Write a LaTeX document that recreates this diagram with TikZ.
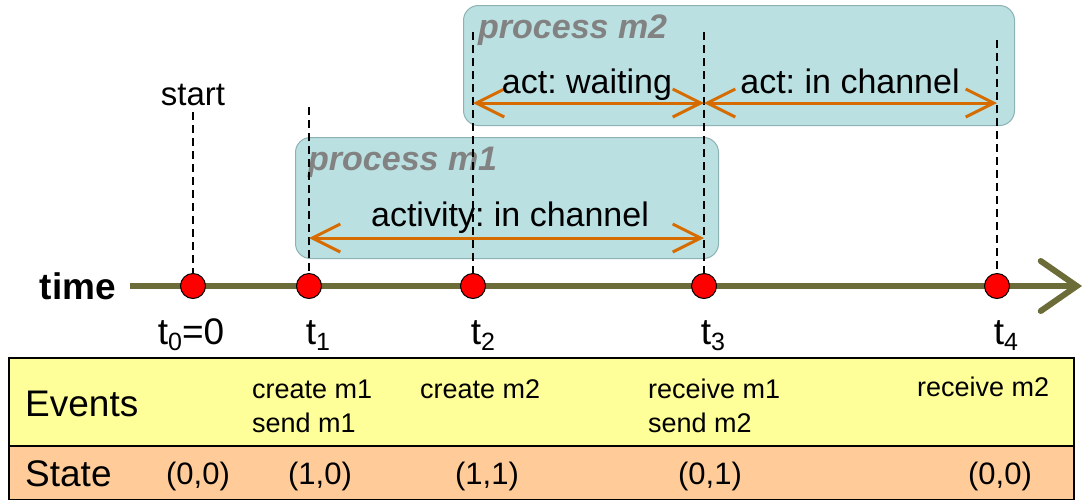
\documentclass[tikz,border=0pt]{standalone}
\usepackage{fontspec}
\setmainfont{Liberation Sans}
\usetikzlibrary{arrows.meta}
\definecolor{axisc}{RGB}{108,108,56}
\definecolor{actc}{RGB}{214,108,0}
\definecolor{boxfill}{RGB}{186,224,226}
\definecolor{boxdraw}{RGB}{140,178,180}
\definecolor{procc}{RGB}{130,130,130}
\definecolor{evfill}{RGB}{255,255,153}
\definecolor{stfill}{RGB}{255,204,153}
\newcommand{\fsz}[1]{\fontsize{#1}{#1}\selectfont}
\newcommand{\tsb}[1]{t\raisebox{-6pt}{\fsz{25}#1}}
\frenchspacing
\begin{document}
\begin{tikzpicture}[x=1pt,y=-1pt,
  procbox/.style={draw=boxdraw, line width=1pt, fill=boxfill, rounded corners=15pt, anchor=north west, inner sep=0pt},
  proclabel/.style={anchor=base west, inner sep=0pt, text=procc, font=\fsz{34}\bfseries\itshape},
  axisline/.style={draw=axisc, line width=6pt, -{Straight Barb[length=36pt,width=50pt,line width=6pt,line cap=round]}},
  actarrow/.style={draw=actc, line width=3pt, {Straight Barb[length=28pt,width=28pt,line width=3pt]}-{Straight Barb[length=28pt,width=28pt,line width=3pt]}},
  dashline/.style={draw=black, line width=2pt, dash pattern=on 8pt off 5pt},
  evdot/.style={circle, draw=black, line width=1pt, fill=red, minimum size=25pt, inner sep=0pt},
  lbl/.style={anchor=base, inner sep=0pt, font=\fsz{34}},
  tlbl/.style={anchor=base, inner sep=0pt, font=\fsz{37}},
  evtxt/.style={anchor=base west, inner sep=0pt, font=\fsz{27}},
  sttxt/.style={anchor=base, inner sep=0pt, font=\fsz{31}},
  rowhead/.style={anchor=base west, inner sep=0pt, font=\fsz{37}},
  rowbox/.style={draw=black, line width=1.5pt, anchor=north west, inner sep=0pt}
]
\useasboundingbox (0,0) rectangle (1085,499);

% process boxes
\node[procbox, minimum width=551pt, minimum height=120pt] (m2box) at (463,5) {};
\node[procbox, minimum width=423pt, minimum height=121pt] (m1box) at (295,137) {};
\node[proclabel] (m2lbl) at (478,38) {process m2};
\node[proclabel] (m1lbl) at (308,170) {process m1};

% axis
\coordinate (ax0) at (130,286);
\coordinate (ax1) at (1082,286);
\draw[axisline] (ax0) -- (ax1);
\node[anchor=base east, inner sep=0pt, font=\fsz{37}\bfseries] (timelbl) at (116,299) {time};

% dots
\node[evdot] (d0) at (193,286) {};
\node[evdot] (d1) at (309,286) {};
\node[evdot] (d2) at (473,286) {};
\node[evdot] (d3) at (704,286) {};
\node[evdot] (d4) at (997,286) {};

% dashed lines
\coordinate (s0) at (193,112);
\coordinate (s1) at (309,107);
\coordinate (s2) at (473,32);
\coordinate (s3) at (704,32);
\coordinate (s4) at (997,40);
\draw[dashline] (s0) -- (d0);
\draw[dashline] (s1) -- (d1);
\draw[dashline] (s2) -- (d2);
\draw[dashline] (s3) -- (d3);
\draw[dashline] (s4) -- (d4);
\node[anchor=base, inner sep=0pt, font=\fsz{33}] (startlbl) at (193,105) {start};

% activity arrows
\coordinate (p1a) at (309,238);
\coordinate (p1b) at (704,238);
\draw[actarrow] (p1a) -- (p1b);
\node[lbl] (p1lbl) at (510,226) {activity: in channel};
\coordinate (p2a) at (473,103);
\coordinate (p2b) at (704,103);
\coordinate (p2c) at (997,103);
\draw[actarrow] (p2a) -- (p2b);
\draw[actarrow] (p2b) -- (p2c);
\node[lbl] (wlbl) at (587,93) {act: waiting};
\node[lbl] (clbl) at (850,93) {act: in channel};

% time labels
\node[tlbl] (t0) at (191,344) {\tsb{0}=0};
\node[tlbl] (t1) at (318,344) {\tsb{1}};
\node[tlbl] (t2) at (483,344) {\tsb{2}};
\node[tlbl] (t3) at (713,344) {\tsb{3}};
\node[tlbl] (t4) at (1006,344) {\tsb{4}};

% table
\node[rowbox, fill=evfill, minimum width=1065pt, minimum height=88pt] (evrow) at (8,357) {};
\node[rowbox, fill=stfill, minimum width=1065pt, minimum height=54pt] (strow) at (8,445) {};
\node[rowhead] (evhead) at (25,416) {Events};
\node[rowhead] (sthead) at (25,486) {State};

\node[evtxt] (e1a) at (252,398) {create m1};
\node[evtxt] (e1b) at (252,432) {send m1};
\node[evtxt] (e2a) at (420,398) {create m2};
\node[evtxt] (e3a) at (648,398) {receive m1};
\node[evtxt] (e3b) at (648,432) {send m2};
\node[evtxt] (e4a) at (917,396) {receive m2};

\node[sttxt] (s0v) at (198,484) {(0,0)};
\node[sttxt] (s1v) at (320,484) {(1,0)};
\node[sttxt] (s2v) at (487,484) {(1,1)};
\node[sttxt] (s3v) at (710,484) {(0,1)};
\node[sttxt] (s4v) at (1000,484) {(0,0)};
\end{tikzpicture}
\end{document}
